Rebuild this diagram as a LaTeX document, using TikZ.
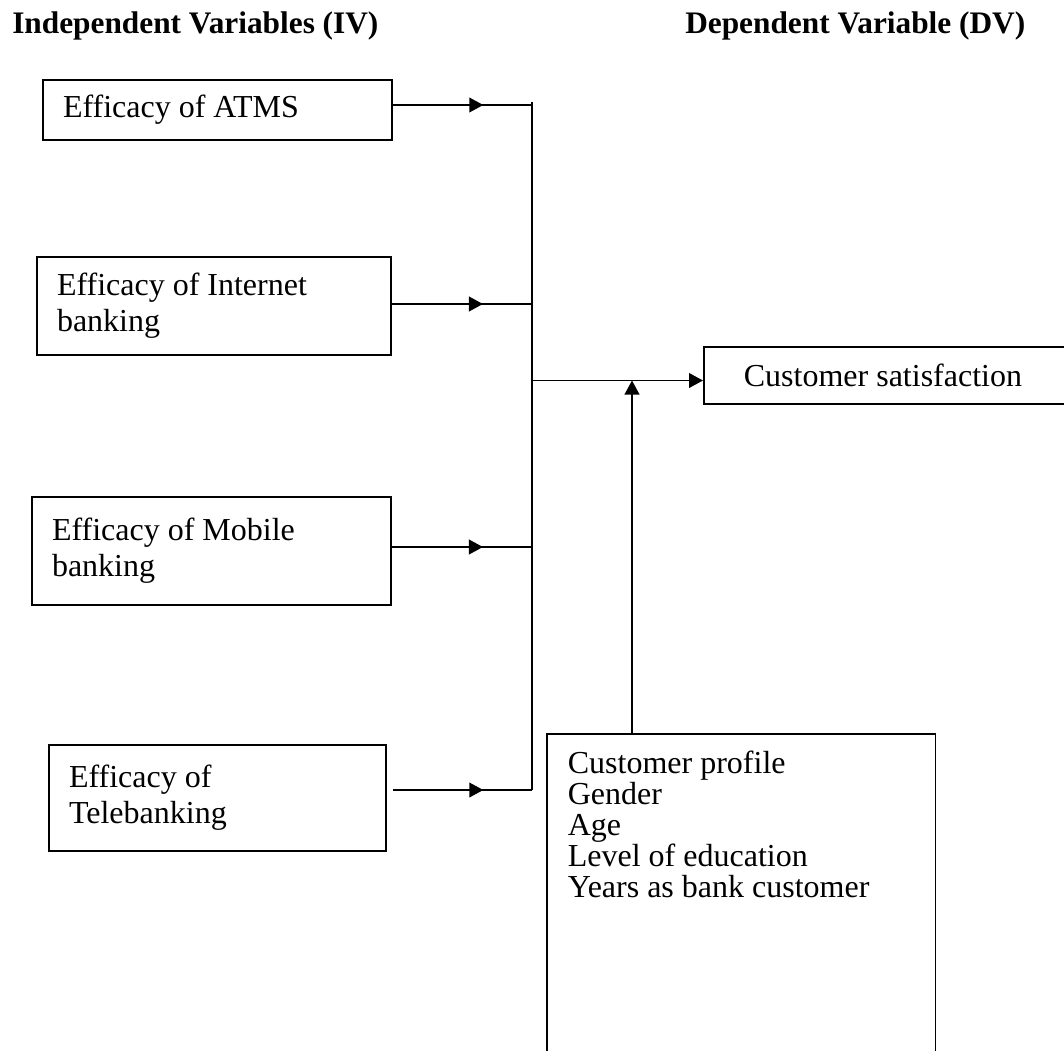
\documentclass[tikz,border=0pt]{standalone}
\usepackage{fontspec}
\setmainfont{Liberation Serif}
\usetikzlibrary{arrows.meta,decorations.markings}
\begin{document}
\begin{tikzpicture}[x=0.75pt,y=-0.75pt,
  every node/.style={font=\fontsize{24}{27}\selectfont},
  ivbox/.style={draw,line width=1.3pt,align=flush left,inner xsep=15pt,inner ysep=0pt},
  hdr/.style={font=\fontsize{23.5}{27}\selectfont\bfseries,inner sep=0pt},
  conn/.style={line width=1.3pt},
  midtip/.style={postaction={decorate},decoration={markings,
     mark=at position #1 with {\arrow{Triangle[length=10.5pt,width=11pt]}}}},
  endtip/.style={-{Triangle[length=10.5pt,width=11pt]}}
]
\clip (0,0) rectangle (1064,1050);
\fill[white] (0,0) rectangle (1064,1050);

% headers
\node[hdr,anchor=base west] (hiv) at (12,33) {Independent Variables (IV)};
\node[hdr,anchor=base west] (hdv) at (685,33) {Dependent Variable (DV)};

% independent variable boxes
\node[ivbox,minimum width=261.75pt,minimum height=45pt,text width=231.75pt] (a) at (217.5,110) {Efficacy of ATMS};
\node[ivbox,minimum width=265.5pt,minimum height=73.5pt,text width=235.5pt] (b) at (214,306) {Efficacy of Internet\\banking};
\node[ivbox,minimum width=269.25pt,minimum height=81pt,text width=239.25pt] (c) at (211.5,551) {Efficacy of Mobile\\banking};
\node[ivbox,minimum width=252.75pt,minimum height=79.5pt,text width=222.75pt] (d) at (217.5,798) {Efficacy of\\Telebanking};

% dependent variable box
\node[ivbox,anchor=west,minimum width=320pt,minimum height=42.75pt,text width=260pt,inner xsep=30pt] (dv) at (703,375.5) {Customer satisfaction};

% customer profile box (open at the bottom of the picture)
\node[draw,line width=1.3pt,anchor=north west,align=flush left,text width=260pt,inner xsep=15.75pt,inner ysep=13pt,
  text depth=260pt,font=\fontsize{24}{23.25}\selectfont] (p) at (546,733)
  {Customer profile\\Gender\\Age\\Level of education\\Years as bank customer};

% junction points on the trunk
\coordinate (j1) at (532,105);
\coordinate (j2) at (532,304);
\coordinate (j3) at (532,547);
\coordinate (j4) at (532,790);
\coordinate (jt) at (532,102);
\coordinate (jm) at (532,380.5);
\coordinate (up) at (632,380.5);

% trunk
\draw[conn] (jt) -- (j4);

% arrows from IV boxes
\draw[conn,midtip=0.65] (a.east |- j1) -- (j1);
\draw[conn,midtip=0.65] (b.east |- j2) -- (j2);
\draw[conn,midtip=0.65] (c.east |- j3) -- (j3);
\draw[conn,midtip=0.65] ([xshift=4.5pt]d.east |- j4) -- (j4);

% main arrow to DV
\draw[conn,endtip] (jm) -- (dv.west |- jm);
% moderator arrow
\draw[conn,endtip] (p.north -| up) -- (up);
\end{tikzpicture}
\end{document}
